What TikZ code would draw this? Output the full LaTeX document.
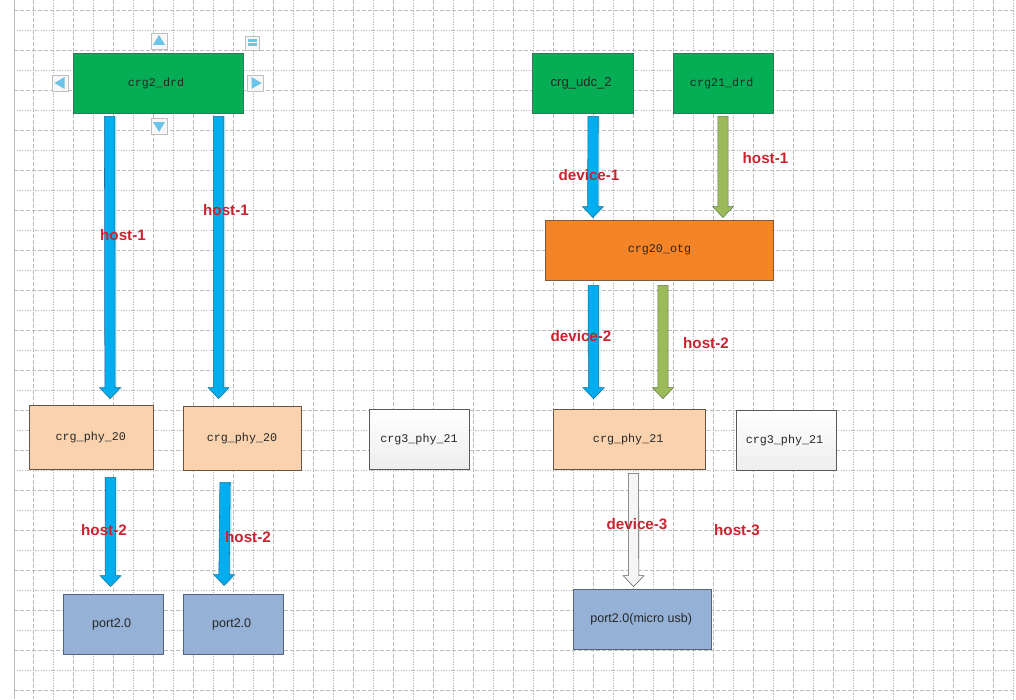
\documentclass[tikz,border=0pt]{standalone}
\usepackage{fontspec}
\setmainfont{Liberation Sans}
\setmonofont{Liberation Mono}
\usetikzlibrary{calc}

\definecolor{gridgray}{HTML}{BBBBBB}
\definecolor{drdgreen}{HTML}{05AE55}
\definecolor{drdline}{HTML}{3A7359}
\definecolor{otgorange}{HTML}{F58426}
\definecolor{otgline}{HTML}{805A38}
\definecolor{phypeach}{HTML}{FAD3AE}
\definecolor{phyline}{HTML}{665545}
\definecolor{portblue}{HTML}{95B1D6}
\definecolor{portline}{HTML}{55657A}
\definecolor{flowblue}{HTML}{00AEEF}
\definecolor{flowline}{HTML}{1F6E90}
\definecolor{flowgreen}{HTML}{9BBB59}
\definecolor{flowgreenline}{HTML}{5E7A48}
\definecolor{labelred}{HTML}{C8232F}
\definecolor{handleblue}{HTML}{6CC4E8}

\begin{document}
\begin{tikzpicture}[
  x=0.75pt, y=-0.75pt,
  box/.style={draw, line width=0.7pt, inner sep=0pt, align=center, text=black!85},
  mono/.style={font=\ttfamily\fontsize{8.8}{10}\selectfont},
  sans/.style={font=\fontsize{9.4}{11}\selectfont},
  drdbox/.style={box, mono, fill=drdgreen, draw=drdline, minimum height=45pt},
  otgbox/.style={box, mono, fill=otgorange, draw=otgline, minimum height=45pt},
  phybox/.style={box, mono, fill=phypeach, draw=phyline},
  blankbox/.style={box, mono, draw=black!65, top color=white, bottom color=black!7, minimum height=45.5pt, minimum width=75pt},
  portbox/.style={box, sans, fill=portblue, draw=portline, minimum height=45pt},
  flowlabel/.style={font=\bfseries\fontsize{11.4}{13}\selectfont, text=labelred, inner sep=0pt},
  fat/.style 2 args={line width=0.7pt, to path={
    ($(\tikztostart)+(-5.2,#1)$) -- ($(\tikztostart)+(5.2,#1)$)
    -- ($(\tikztotarget)+(5.2,-#2-11)$) -- ($(\tikztotarget)+(10.5,-#2-11)$)
    -- ($(\tikztotarget)+(0,-#2)$)
    -- ($(\tikztotarget)+(-10.5,-#2-11)$) -- ($(\tikztotarget)+(-5.2,-#2-11)$) -- cycle}},
  blueflow/.style={draw=flowline, fill=flowblue, preaction={draw=none, fill=flowblue!18, transform canvas={xshift=1.5pt}}},
  greenflow/.style={draw=flowgreenline, fill=flowgreen},
  whiteflow/.style={draw=black!65, fill=black!4},
  handle/.style={draw=black!25, fill=black!3, line width=0.7pt, inner sep=0pt, minimum size=12pt},
  handletri/.style={fill=handleblue}
]
  \useasboundingbox (0,0) rectangle (1016,699);

  % Grid
  \draw[gridgray, line width=0.7pt] (14,0) -- (14,699);
  \foreach \gx in {33,73,...,1013}
    \draw[gridgray, line width=0.7pt, dash pattern=on 3pt off 1.5pt] (\gx,0) -- (\gx,699);
  \foreach \gx in {53,93,...,1013}
    \draw[gridgray, line width=0.7pt, dash pattern=on 1pt off 1pt] (\gx,0) -- (\gx,699);
  \foreach \gy in {10,50,...,690}
    \draw[gridgray, line width=0.7pt, dash pattern=on 3pt off 1.5pt] (14,\gy) -- (1016,\gy);
  \foreach \gy in {30,70,...,690}
    \draw[gridgray, line width=0.7pt, dash pattern=on 1pt off 1pt] (14,\gy) -- (1016,\gy);

  % Nodes
  \node[drdbox, minimum width=127.5pt] (crgdrd) at (158,83) {crg2\_drd\hspace{3pt}};
  \node[drdbox, minimum width=75.5pt, font=\fontsize{9.8}{11}\selectfont] (udc) at (583.2,83) {\raisebox{1.5pt}{crg\_udc\_2}\hspace{3pt}};
  \node[drdbox, minimum width=75pt] (drdtwo) at (723,83) {crg21\_drd\hspace{2pt}};
  \node[otgbox, minimum width=171.5pt] (otg) at (659.5,250) {crg20\_otg};
  \node[phybox, minimum width=93.5pt, minimum height=48.5pt] (phya) at (91.5,437.5) {crg\_phy\_20\hspace{1pt}};
  \node[phybox, minimum width=88.5pt, minimum height=48pt] (phyb) at (242,438) {crg\_phy\_20};
  \node[blankbox] (phyc) at (419,439.5) {crg3\_phy\_21};
  \node[phybox, minimum width=114pt, minimum height=45.5pt] (phyd) at (629.5,439.5) {crg\_phy\_21\hspace{2pt}};
  \node[blankbox, minimum height=45pt] (phye) at (786.5,440) {crg3\_phy\_21\hspace{3pt}};
  \node[portbox, minimum width=75pt] (porta) at (113,624) {port2.0\hspace{2pt}};
  \node[portbox, minimum width=75pt] (portb) at (233,624) {port2.0\hspace{2pt}};
  \node[portbox, minimum width=103.5pt] (portc) at (642.5,619) {port2.0(micro usb)\hspace{2pt}};

  % Flows
  \draw[blueflow] ([xshift=-36.3pt]crgdrd.south) to[fat={3}{6}] ([xshift=13.9pt]phya.north);
  \draw[blueflow] ([xshift=45.4pt]crgdrd.south) to[fat={3}{7}] ([xshift=-17.6pt]phyb.north);
  \draw[blueflow] ([xshift=14.2pt]phya.south) to[fat={7}{7}] ([xshift=-1.9pt]porta.north);
  \draw[blueflow] ([xshift=-12.7pt]phyb.south) to[fat={12}{8}] ([xshift=-6.7pt]portb.north);
  \draw[blueflow] ([xshift=7.4pt]udc.south) to[fat={3}{2}] ([xshift=-50pt]otg.north);
  \draw[greenflow] (drdtwo.south) to[fat={3}{2}] ([xshift=47.6pt]otg.north);
  \draw[blueflow] ([xshift=-49.6pt]otg.south) to[fat={5}{10}] ([xshift=-27pt]phyd.north);
  \draw[greenflow] ([xshift=2.6pt]otg.south) to[fat={5}{10}] ([xshift=25.1pt]phyd.north);
  \draw[whiteflow] ([xshift=3pt]phyd.south) to[fat={3}{2}] ([xshift=-6.7pt]portc.north);

  % Flow labels
  \node[flowlabel] (hostone) at (123,235) {host-1};
  \node[flowlabel] (hosttwo) at (226,210) {host-1};
  \node[flowlabel] (hostthree) at (104,530) {host-2};
  \node[flowlabel] (hostfour) at (248,537) {host-2};
  \node[flowlabel] (devone) at (589,175) {device-1};
  \node[flowlabel] (hostfive) at (765.5,158) {host-1};
  \node[flowlabel] (devtwo) at (581,336) {device-2};
  \node[flowlabel] (hostsix) at (706,343) {host-2};
  \node[flowlabel] (devthree) at (637,524) {device-3};
  \node[flowlabel] (hostseven) at (737,530) {host-3};

  % Selection handles
  \node[handle] (hup) at (159,41) {};
  \fill[handletri] (hup.center) ++(-6,4) -- ++(12,0) -- ++(-6,-10) -- cycle;
  \node[handle] (hdown) at (159,126) {};
  \fill[handletri] (hdown.center) ++(-6,-4) -- ++(12,0) -- ++(-6,10) -- cycle;
  \node[handle] (hleft) at (60.5,83) {};
  \fill[handletri] (hleft.center) ++(4,-6) -- ++(0,12) -- ++(-10,-6) -- cycle;
  \node[handle] (hright) at (255.5,83) {};
  \fill[handletri] (hright.center) ++(-4,-6) -- ++(0,12) -- ++(10,-6) -- cycle;
  \node[handle, minimum size=10.5pt] (hmenu) at (252.5,43) {};
  \fill[handletri] (hmenu.center) ++(-4.5,-3.5) rectangle ++(9,3);
  \fill[handletri] (hmenu.center) ++(-4.5,0.5) rectangle ++(9,3);
\end{tikzpicture}
\end{document}
